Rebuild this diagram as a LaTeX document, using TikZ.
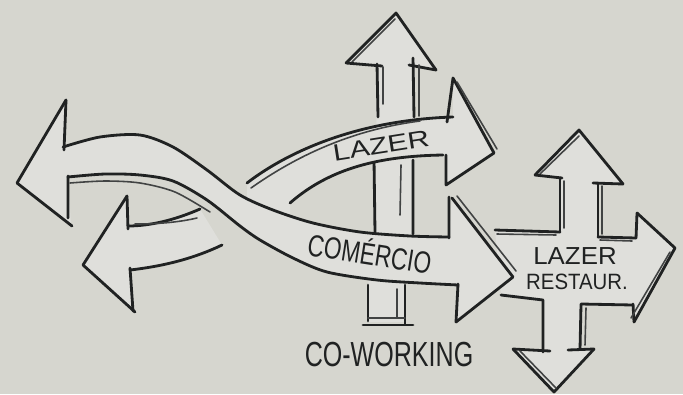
\documentclass[tikz,border=0pt]{standalone}
\usepackage{fontspec}
\setsansfont{Liberation Sans}
\definecolor{sketchpaper}{RGB}{214,214,207}
\definecolor{sketchfill}{RGB}{223,223,219}
\definecolor{sketchink}{RGB}{32,34,34}

\begin{document}
\begin{tikzpicture}[x=.01cm,y=-.01cm,line cap=round,line join=round,
  ink/.style={draw=sketchink,line width=.8pt},
  inklight/.style={draw=sketchink!85,line width=.45pt},
  paper/.style={fill=sketchfill},
  every node/.style={text=sketchink,inner sep=0pt,font=\sffamily}]
 \fill[sketchpaper] (0,0) rectangle (683,394);
 \useasboundingbox (0,0) rectangle (683,394);

 \fill[paper] (579,130) -- (623,184) -- (598,183) -- (598,237) -- (636,238)
  -- (637,213) -- (675,248) -- (634,322) -- (633,305) -- (581,304)
  -- (580,349) -- (594,349) -- (554,392) -- (513,349) -- (543,351)
  -- (543,300) -- (501,295) -- (495,230) -- (560,232) -- (560,178)
  -- (535,175) -- cycle;
 \draw[ink] (535,175) -- (579,130) -- (623,184);
 \draw[inklight] (540,174) -- (579,136);
 \draw[ink] (535,175) -- (562,178) (593,183) -- (623,184);
 \draw[ink] (560,178) -- (560,232) (598,183) -- (598,237);
 \draw[inklight] (564,181) -- (564,228) (602,186) -- (602,234);
 \draw[ink] (495,230) -- (560,232) (598,237) -- (636,238);
 \draw[inklight] (497,234) -- (556,235) (600,240) -- (632,241);
 \draw[ink] (637,213) -- (636,238) (633,304) -- (634,322);
 \draw[ink] (637,213) -- (675,248) -- (634,322);
 \draw[inklight] (670,252) -- (631,318);
 \draw[ink] (501,295) -- (543,300) -- (543,352) (581,304) -- (633,305)
  (581,304) -- (580,349);
 \draw[inklight] (586,308) -- (585,345);
 \draw[ink] (513,349) -- (554,392) -- (594,349);
 \draw[ink] (513,349) -- (550,351) (568,350) -- (594,349);
 \draw[inklight] (520,351) -- (556,388);

 \fill[paper] (396,13) -- (436,70) -- (415,67) -- (413,233) -- (405,285)
  -- (405,322) -- (368,322) -- (368,285) -- (375,233) -- (377,65)
  -- (346,63) -- cycle;
 \draw[ink] (346,63) -- (396,13) -- (436,70);
 \draw[inklight] (352,62) -- (395,19);
 \draw[ink] (346,63) -- (382,66) (409,65) -- (436,70);
 \draw[ink] (377,64) -- (378,117) (413,58) -- (414,117);
 \draw[inklight] (383,67) -- (383,104) (419,65) -- (419,116);
 \draw[ink] (374,160) -- (375,233) (413,160) -- (413,234);
 \draw[inklight] (401,165) -- (400,215);
 \draw[ink] (368,285) -- (368,321) (405,285) -- (405,324) (363,325) -- (413,325);
 \draw[inklight] (397,289) -- (397,317) (368,318) -- (405,318);

 \fill[paper] (247,183) .. controls (290,150) and (360,120) .. (453,117)
  -- (453,78) -- (494,153) -- (446,185) -- (446,155)
  .. controls (380,156) and (330,168) .. (290,203) -- (290,220) -- (247,200) -- cycle;
 \draw[ink] (247,183) .. controls (290,150) and (360,120) .. (453,117);
 \draw[inklight] (251,188) .. controls (295,157) and (350,130) .. (420,121);
 \draw[ink] (447,122) -- (453,78) -- (494,153) -- (446,185) -- (446,155);
 \draw[inklight] (457,82) -- (497,149);
 \draw[ink] (290,203) .. controls (330,168) and (380,156) .. (443,155);

 \fill[paper] (127,197) -- (83,265) -- (135,312) -- (130,270)
  .. controls (165,266) and (195,258) .. (222,245) -- (200,209)
  .. controls (175,220) and (150,226) .. (128,226) -- cycle;
 \draw[ink] (127,196) -- (83,265) -- (135,312);
 \draw[ink] (127,196) -- (128,229) (130,268) -- (133,311);
 \draw[ink] (128,226) .. controls (150,226) and (175,220) .. (200,209);
 \draw[inklight] (135,224) .. controls (160,224) and (180,222) .. (197,218);
 \draw[ink] (130,270) .. controls (165,266) and (195,258) .. (222,245);

 \fill[paper] (66,100) -- (63,147) -- plot[smooth] coordinates {(63,147) (100,137)
  (140,135) (173,147) (207,170) (240,195) (273,210) (313,223) (360,232)
  (410,236) (449,237)} -- (452,198) -- (513,277) -- (456,322) -- (458,285)
  -- plot[smooth] coordinates {(458,285) (420,283) (377,280) (327,272) (293,258)
  (260,240) (240,226) (207,200) (173,181) (140,175) (105,174) (68,177)}
  -- (71,225) -- (17,183) -- cycle;
 \draw[ink] (66,100) -- (17,183) -- (72,226);
 \draw[ink] (66,100) -- (64,150) (68,176) -- (68,218);
 \draw[ink] plot[smooth] coordinates {(63,147) (100,137) (140,135) (173,147)
  (207,170) (240,195) (273,210) (313,223) (360,232) (410,236) (449,237)};
 \draw[ink] plot[smooth] coordinates {(68,177) (105,174) (140,175) (173,181)
  (207,200) (240,226) (260,240) (293,258) (327,272) (377,280) (420,283) (458,285)};
 \draw[inklight] plot[smooth] coordinates {(70,183) (105,181) (140,183)
  (175,192) (210,212)};
 \draw[ink] (449,197) -- (449,238) (458,284) -- (456,322);
 \draw[ink] (452,198) -- (513,277) -- (456,322);
 \draw[inklight] (457,196) -- (516,271);

 \node[rotate=9,xscale=1.28,font=\sffamily\fontsize{6.7pt}{8pt}\selectfont]
  (lazer) at (381,146) {LAZER};
 \node[rotate=-9,xscale=.74,font=\sffamily\fontsize{8.7pt}{10pt}\selectfont]
  (comercio) at (370,252) {COMÉRCIO};
 \node[xscale=1.05,font=\sffamily\fontsize{7pt}{8pt}\selectfont]
  (lazerrest) at (575,256) {LAZER};
 \node[xscale=.92,font=\sffamily\fontsize{6.3pt}{8pt}\selectfont]
  (restaur) at (577,282) {RESTAUR.};
 \node[xscale=.72,font=\sffamily\fontsize{9.9pt}{11pt}\selectfont]
  (coworking) at (389,355) {CO-WORKING};
\end{tikzpicture}
\end{document}
